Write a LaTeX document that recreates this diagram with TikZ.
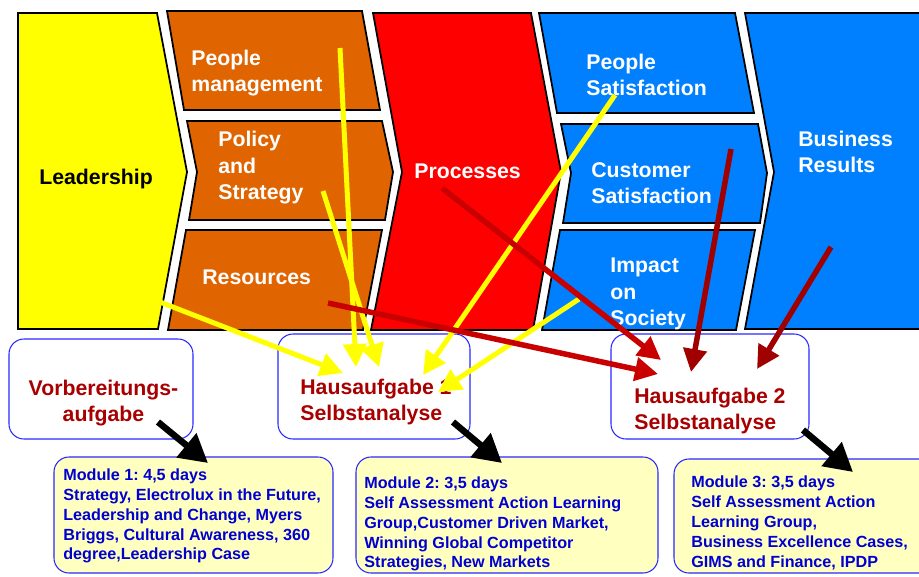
\documentclass[tikz,border=0pt]{standalone}
\usepackage{fontspec}
\setmainfont{Liberation Sans}
\usetikzlibrary{arrows.meta,positioning}
\frenchspacing

\definecolor{lyellow}{RGB}{255,255,0}
\definecolor{eorange}{RGB}{224,100,0}
\definecolor{ered}{RGB}{255,0,0}
\definecolor{eblue}{RGB}{0,128,255}
\definecolor{hwred}{RGB}{168,0,0}
\definecolor{arrred}{RGB}{200,0,0}
\definecolor{arrdark}{RGB}{160,0,0}
\definecolor{modfill}{RGB}{255,255,192}
\definecolor{modtext}{RGB}{0,0,210}
\definecolor{boxline}{RGB}{40,40,255}

\tikzset{
    part/.style={draw=black, line width=1pt},
    lbl/.style={font=\bfseries\fontsize{12.1}{15.1}\selectfont, text=white,
                align=left, inner sep=0pt, anchor=west},
    hwlbl/.style={lbl, text=hwred},
    modlbl/.style={font=\bfseries\fontsize{9.2}{11.3}\selectfont, text=modtext,
                   align=left, inner sep=0pt, anchor=west},
    hwbox/.style={draw=boxline, line width=0.6pt, rounded corners=0.3cm},
    modbox/.style={hwbox, fill=modfill},
    yarrow/.style={draw=lyellow, line width=0.1cm,
                   -{Triangle[length=0.46cm,width=0.46cm]}},
    rarrow/.style={draw=arrred, line width=0.11cm,
                   -{Triangle[length=0.46cm,width=0.46cm]}},
    darrow/.style={rarrow, draw=arrdark},
    barrow/.style={draw=black, line width=0.13cm,
                   -{Triangle[length=0.56cm,width=0.6cm]}}
}

\begin{document}
\begin{tikzpicture}[x=0.02cm, y=-0.02cm]
    \useasboundingbox (0,0) rectangle (919,576);
    \clip (0,0) rectangle (919,576);

    % enablers
    \filldraw[part, fill=lyellow] (18,13) -- (157,13) -- (187,172) -- (158,329) -- (18,329) -- cycle;
    \filldraw[part, fill=eorange] (167,11) -- (362,11) -- (380,110) -- (184,110) -- cycle;
    \filldraw[part, fill=eorange] (187,121) -- (382,121) -- (393,172) -- (385,220) -- (189,220) -- (197,172) -- cycle;
    \filldraw[part, fill=eorange] (186,230) -- (382,230) -- (363,330) -- (168,330) -- cycle;
    \filldraw[part, fill=ered] (373,13) -- (531,13) -- (561,172) -- (533,330) -- (371,330) -- (402,172) -- cycle;

    % results
    \filldraw[part, fill=eblue] (539,13) -- (735,13) -- (754,113) -- (557,113) -- cycle;
    \filldraw[part, fill=eblue] (561,124) -- (758,124) -- (767,173) -- (760,223) -- (563,223) -- (571,173) -- cycle;
    \filldraw[part, fill=eblue] (560,230) -- (755,230) -- (736,330) -- (542,330) -- cycle;
    \filldraw[part, fill=eblue] (745,13) -- (930,13) -- (930,329) -- (745,329) -- (774,172) -- cycle;

    \node[lbl, text=black] (lead) at (39,179) {Leadership};
    \node[lbl] (peoplemgmt) at (191,73) {People\\management};
    \node[lbl] (policy) at (218,168) {Policy\\and\\Strategy};
    \node[lbl] (resources) at (202,277) {Resources};
    \node[lbl] (processes) at (414,171) {Processes};
    \node[lbl] (peoplesat) at (586,75) {People\\Satisfaction};
    \node[lbl] (custsat) at (591,183) {Customer\\Satisfaction};
    \node[lbl] (impact) at (610,294) {Impact\\on\\Society};
    \node[lbl] (results) at (798,152) {Business\\Results};

    % homework boxes
    \draw[hwbox] (9,339) rectangle (193,439);
    \draw[hwbox] (278,334) rectangle (470,439);
    \draw[hwbox] (611,334) rectangle (809,439);
    \node[hwlbl, align=center, anchor=center] (prep) at (103.5,403) {Vorbereitungs-\\aufgabe};
    \node[hwlbl] (hw1) at (300,402) {Hausaufgabe 1\\Selbstanalyse};
    \node[hwlbl] (hw2) at (634,411) {Hausaufgabe 2\\Selbstanalyse};

    % modules
    \draw[modbox] (54,457) rectangle (333,573);
    \draw[modbox] (356,457) rectangle (658,573);
    \draw[modbox] (674,459) rectangle (940,573);
    \node[modlbl] (mod1) at (63,516) {Module 1: 4,5 days\\Strategy, Electrolux in the Future,\\Leadership and Change, Myers\\Briggs, Cultural Awareness, 360\\degree,Leadership Case};
    \node[modlbl] (mod2) at (364,524) {Module 2: 3,5 days\\Self Assessment Action Learning\\Group,Customer Driven Market,\\Winning Global Competitor\\Strategies, New Markets};
    \node[modlbl] (mod3) at (691,523) {Module 3: 3,5 days\\Self Assessment Action\\Learning Group,\\Business Excellence Cases,\\GIMS and Finance, IPDP};

    % arrow ends
    \coordinate (lead-o) at (160,302);
    \coordinate (peoplemgmt-o) at (340,48);
    \coordinate (policy-o) at (323,191);
    \coordinate (peoplesat-o) at (615,95);
    \coordinate (impact-o) at (579,299);
    \coordinate (resources-o) at (328,303);
    \coordinate (processes-o) at (442,188);
    \coordinate (custsat-o) at (731,149);
    \coordinate (results-o) at (831,247);
    \coordinate (hw1-a) at (343,373);
    \coordinate (hw1-b) at (356,367);
    \coordinate (hw1-c) at (379,367);
    \coordinate (hw1-d) at (423,375);
    \coordinate (hw1-e) at (438,392);
    \coordinate (hw2-a) at (658,374);
    \coordinate (hw2-b) at (661,360);
    \coordinate (hw2-c) at (691,372);
    \coordinate (hw2-d) at (757,369);
    \coordinate (prep-o) at (158,422);
    \coordinate (hw1-o) at (453,422);
    \coordinate (hw2-o) at (803,430);
    \coordinate (mod1-i) at (208,463);
    \coordinate (mod2-i) at (502,463);
    \coordinate (mod3-i) at (853,472);

    % arrows
    \draw[yarrow] (lead-o) -- (hw1-a);
    \draw[yarrow] (peoplemgmt-o) -- (hw1-b);
    \draw[yarrow] (policy-o) -- (hw1-c);
    \draw[yarrow] (peoplesat-o) -- (hw1-d);
    \draw[yarrow] (impact-o) -- (hw1-e);
    \draw[rarrow] (resources-o) -- (hw2-a);
    \draw[rarrow] (processes-o) -- (hw2-b);
    \draw[darrow] (custsat-o) -- (hw2-c);
    \draw[darrow] (results-o) -- (hw2-d);
    \draw[barrow] (prep-o) -- (mod1-i);
    \draw[barrow] (hw1-o) -- (mod2-i);
    \draw[barrow] (hw2-o) -- (mod3-i);
\end{tikzpicture}
\end{document}
